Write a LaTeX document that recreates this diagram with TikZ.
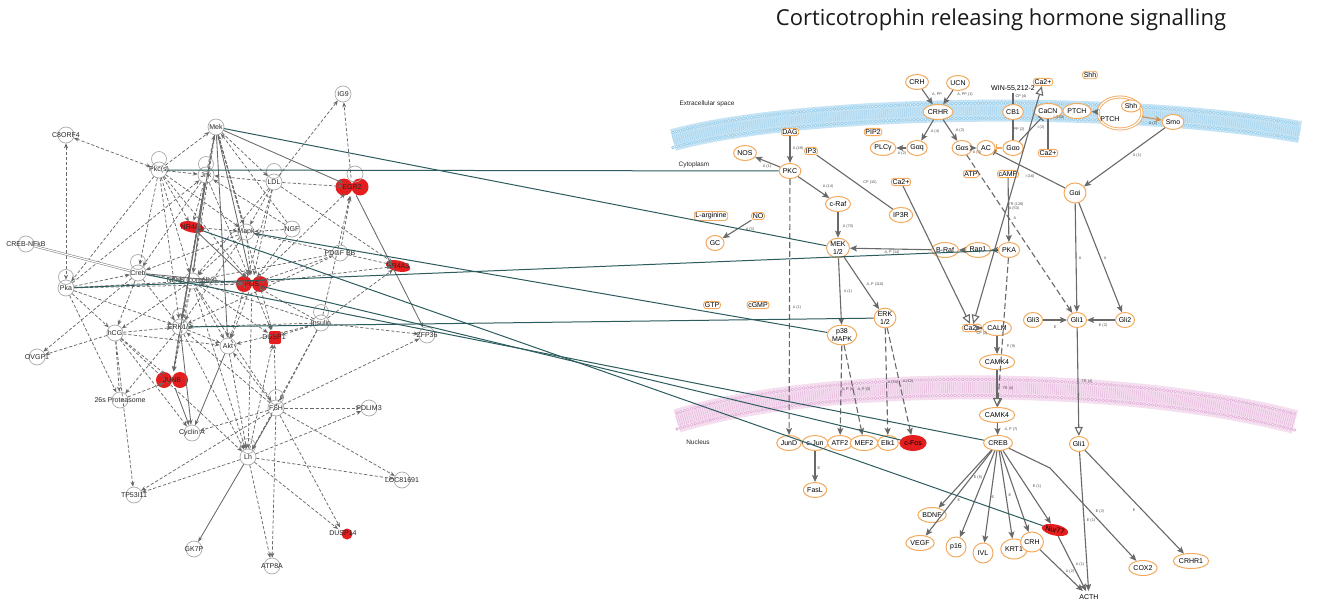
\documentclass[tikz,border=0pt]{standalone}
\usepackage{fontspec}
\setmainfont{Liberation Sans}
\newfontfamily\titlefont{Open Sans}
\usetikzlibrary{arrows.meta,shapes.geometric,calc}
\definecolor{ipaor}{RGB}{243,170,95}
\definecolor{ipared}{RGB}{228,30,30}
\definecolor{tealc}{RGB}{45,92,95}
\definecolor{edgegray}{RGB}{105,105,105}
\definecolor{circgray}{RGB}{170,170,170}
\definecolor{memblue}{RGB}{196,228,245}
\definecolor{memblue2}{RGB}{150,204,234}
\definecolor{mempink}{RGB}{246,222,241}
\definecolor{mempink2}{RGB}{226,176,216}
\newcommand\bluemem[1]{\draw[#1] (673,140) .. controls (800,105) and (1120,100) .. (1300,132);}
\newcommand\pinkmem[1]{\draw[#1] (677,421) .. controls (820,376) and (1120,376) .. (1295,422);}
\begin{document}
\begin{tikzpicture}[x=1pt,y=-1pt,
  gn/.style={circle, draw=circgray, line width=0.7pt, minimum size=16pt, inner sep=0pt},
  gl/.style={font=\fontsize{7}{8}\selectfont, text=black!85, inner sep=0pt},
  ge/.style={edgegray, line width=0.75pt, dash pattern=on 3.2pt off 2pt, -{Stealth[length=5pt,width=4pt]}},
  gs/.style={edgegray, line width=0.85pt, -{Stealth[length=5pt,width=4pt]}},
  tealln/.style={tealc, line width=1pt},
  onode/.style={ellipse, draw=ipaor, line width=1pt, inner sep=0.5pt, minimum width=18pt, minimum height=15pt, font=\fontsize{7}{8}\selectfont, align=center, fill=white},
  osm/.style={rectangle, rounded corners=3pt, draw=ipaor, line width=0.9pt, inner sep=1.2pt, font=\fontsize{7}{8}\selectfont, fill=white},
  rarr/.style={edgegray, line width=1.1pt, -{Stealth[length=7pt,width=6pt,inset=1.5pt]}},
  rdash/.style={rarr, dash pattern=on 6pt off 3pt},
  ropen/.style={edgegray, line width=1.1pt, -{Triangle[open,length=9pt,width=8pt,fill=white]}},
  rline/.style={edgegray, line width=1.1pt},
  elab/.style={font=\fontsize{3.8}{4}\selectfont, text=black!70, inner sep=0.3pt},
  reg/.style={font=\fontsize{6.5}{7}\selectfont, text=black!85}
]
\useasboundingbox (0,0) rectangle (1321,604);
\fill[white] (0,0) rectangle (1321,604);

% ---------------- membranes ----------------
\bluemem{memblue, line width=22pt}
\bluemem{memblue2!80, line width=9pt, dash pattern=on 0.7pt off 1.4pt}
\bluemem{memblue2, line width=3.6pt, line cap=round, dash pattern=on 0pt off 3.8pt, yshift=7.5pt}
\bluemem{white, line width=1.4pt, line cap=round, dash pattern=on 0pt off 3.8pt, yshift=7.5pt}
\bluemem{memblue2, line width=3.6pt, line cap=round, dash pattern=on 0pt off 3.8pt, yshift=-7.5pt}
\bluemem{white, line width=1.4pt, line cap=round, dash pattern=on 0pt off 3.8pt, yshift=-7.5pt}
\pinkmem{mempink, line width=24pt}
\pinkmem{mempink2!80, line width=11pt, dash pattern=on 0.7pt off 1.4pt}
\pinkmem{mempink2, line width=3.6pt, line cap=round, dash pattern=on 0pt off 3.8pt, yshift=8pt}
\pinkmem{white, line width=1.4pt, line cap=round, dash pattern=on 0pt off 3.8pt, yshift=8pt}
\pinkmem{mempink2, line width=3.6pt, line cap=round, dash pattern=on 0pt off 3.8pt, yshift=-8pt}
\pinkmem{white, line width=1.4pt, line cap=round, dash pattern=on 0pt off 3.8pt, yshift=-8pt}

% ---------------- title and regions ----------------
\node[font=\titlefont\fontsize{22}{25}\selectfont, text=black!90] (title) at (1001,20) {Corticotrophin releasing hormone signalling};
\node[reg] (extra) at (707,104) {Extracellular space};
\node[reg] (cyto) at (694,165) {Cytoplasm};
\node[reg] (nucl) at (698,442) {Nucleus};

% ---------------- left network: red fills ----------------
\fill[ipared] (344,187) circle (8.5) (360,187) circle (8.5);
\fill[ipared] (244,284) circle (8) (260,284) circle (8);
\fill[ipared] (164,380) circle (8) (180,380) circle (8);
\fill[ipared, rotate around={-12:(192,227)}] (192,227) ellipse (12.5 and 5.5);
\fill[ipared, rotate around={-12:(398,266)}] (398,266) ellipse (12.5 and 5.5);
\fill[ipared, rounded corners=2pt] (269,331) rectangle (281,344);
\fill[ipared] (347,534) circle (5.5);

% ---------------- left network nodes ----------------
\node[gn, label={[gl]center:IG9}] (ig9) at (343,94) {};
\node[gn, label={[gl]center:C8ORF4}] (c8) at (66,135) {};
\node[gn, label={[gl]center:Mek}] (mek) at (216,127) {};
\node[gn, label={[gl]center:Pkc(s)}] (pkc) at (159,170) {};
\node[gn, label={[gl]center:Jnk}] (jnk) at (206,175) {};
\node[gn, label={[gl]center:LDL}] (ldl) at (274,182) {};
\node[gn, draw=none, minimum size=18pt, label={[gl]center:EGR2}] (egr2) at (352,187) {};
\node[gn, draw=none, minimum size=12pt, label={[gl]center:NR4A1}] (nr4a1) at (192,227) {};
\node[gn, label={[gl]center:Mapk}] (mapk) at (246,232) {};
\node[gn, label={[gl]center:NGF}] (ngf) at (292,229) {};
\node[gn, label={[gl]center:PDGF BB}] (pdgf) at (340,253) {};
\node[gn, draw=none, minimum size=12pt, label={[gl]center:NR4A3}] (nr4a3) at (398,266) {};
\node[gn, label={[gl]center:CREB-NFkB}] (cnf) at (26,244) {};
\node[gn, label={[gl]center:Creb}] (creb) at (138,273) {};
\node[gn, label={[gl]center:NFkB (complex)}] (nfkb) at (192,281) {};
\node[gn, draw=none, minimum size=17pt, label={[gl]center:FOS}] (fos) at (252,284) {};
\node[gn, label={[gl]center:Pka}] (pka) at (66,288) {};
\node[gn, label={[gl]center:hCG}] (hcg) at (115,333) {};
\node[gn, label={[gl]center:ERK1/2}] (erk) at (180,327) {};
\node[gn, label={[gl]center:Insulin}] (ins) at (321,323) {};
\node[gn, draw=none, minimum size=14pt, label={[gl]center:DUSP1}] (dusp1) at (274,337) {};
\node[gn, label={[gl]center:Akt}] (akt) at (228,346) {};
\node[gn, label={[gl]center:ZFP36}] (zfp) at (427,335) {};
\node[gn, label={[gl]center:OVGP1}] (ovgp) at (37,357) {};
\node[gn, draw=none, minimum size=17pt, label={[gl]center:JUNB}] (junb) at (172,380) {};
\node[gn, label={[gl]center:26s Proteasome}] (s26) at (120,400) {};
\node[gn, label={[gl]center:Cyclin A}] (cyc) at (192,433) {};
\node[gn, label={[gl]center:FSH}] (fsh) at (276,408) {};
\node[gn, label={[gl]center:PDLIM3}] (pdlim) at (369,408) {};
\node[gn, label={[gl]center:Lh}] (lh) at (248,457) {};
\node[gn, label={[gl]center:LOC81691}] (loc) at (402,480) {};
\node[gn, label={[gl]center:TP53I11}] (tp53) at (134,495) {};
\node[gn, draw=none, minimum size=12pt, label={[gl]center:DUSP14}] (dusp14) at (343,533) {};
\node[gn, label={[gl]center:GK7P}] (gk7p) at (194,549) {};
\node[gn, label={[gl]center:ATP8A}] (atp8) at (272,566) {};

% self loops
\foreach \n in {pkc,jnk,ldl,pka,creb,ins,fsh,lh,erk}
  \draw[circgray, line width=0.7pt] ($(\n)+(0,-11)$) circle (7.5);
\draw[circgray, line width=0.7pt] ($(egr2)+(3,-13)$) circle (8);

% left edges
\draw[edgegray, line width=0.75pt, dash pattern=on 3.2pt off 2pt, {Stealth[length=5pt,width=4pt]}-{Stealth[length=5pt,width=4pt]}] (c8) -- (pkc);
\draw[edgegray, line width=0.75pt, dash pattern=on 3.2pt off 2pt, {Stealth[length=5pt,width=4pt]}-{Stealth[length=5pt,width=4pt]}] (c8) -- (pka);
\foreach \a/\b in {ldl/ig9, egr2/ig9, mek/ldl, ldl/jnk, ldl/egr2, pdgf/egr2, pdgf/nr4a3, ldl/nr4a3, pdgf/mapk, pdgf/fos, pdgf/nfkb, pdgf/erk, ngf/mapk, ngf/mek, ngf/jnk, ngf/fos, ldl/mapk, ldl/nfkb, ldl/fos, ldl/akt, pkc/jnk, pkc/creb, pkc/nfkb, pkc/pka, pkc/fos, pkc/erk, pkc/mapk, pkc/nr4a1, pkc/mek, jnk/mek, jnk/creb, jnk/fos, jnk/erk, pka/jnk, mapk/mek, mapk/nfkb, mapk/fos, mapk/erk, mapk/creb, nr4a1/mapk, creb/nfkb, creb/erk, creb/hcg, pka/creb, pka/nfkb, pka/hcg, pka/s26, pka/erk, pka/fos, nfkb/fos, nfkb/erk, nfkb/akt, nfkb/hcg, nfkb/junb, nfkb/dusp1, ins/fos, ins/nfkb, ins/erk, ins/akt, ins/dusp1, ins/nr4a3, ins/egr2, fos/egr2, fos/akt, fos/dusp1, fos/nr4a3, erk/akt, erk/junb, hcg/erk, erk/s26, hcg/junb, hcg/s26, hcg/ovgp, creb/ovgp, hcg/tp53, hcg/akt, hcg/cyc, s26/junb, fsh/dusp1, fsh/akt, fsh/pdlim, fsh/zfp, fsh/loc, fsh/dusp14, fsh/atp8, fsh/tp53, fsh/cyc, fsh/erk, lh/atp8, lh/dusp14, lh/tp53, lh/loc, lh/pdlim, lh/dusp1, nfkb/lh, fos/lh, erk/lh, akt/lh, hcg/lh, ins/lh, ins/fsh, nfkb/fsh, ins/zfp, mek/nfkb, mek/dusp1, jnk/nr4a1, mek/mapk}
  \draw[ge] (\a) -- (\b);
\foreach \a/\b in {mek/egr2, egr2/zfp, jnk/nfkb, mek/erk, akt/cyc, junb/cyc, erk/cyc, lh/gk7p, fsh/lh, mek/fos, jnk/junb, mek/akt, creb/fos, nr4a1/fos}
  \draw[gs] (\a) -- (\b);
\draw[circgray!70!black, line width=0.5pt, double=white, double distance=1.2pt] (cnf) -- (creb);

% ---------------- right pathway nodes ----------------
\node[osm] (dag) at (790,132) {DAG};
\node[onode] (pkc2) at (790,171) {PKC};
\node[onode] (nos) at (745,153) {NOS};
\node[osm] (ip3) at (811,151) {IP3};
\node[osm] (pip2) at (873,132) {PIP2};
\node[onode] (plcg) at (883,148) {PLCγ};
\node[onode] (gaq) at (917,148) {Gαq};
\node[onode] (crh) at (917,82) {CRH};
\node[onode] (ucn) at (958,83) {UCN};
\node[onode] (crhr) at (938,112) {CRHR};
\node[font=\fontsize{7}{8}\selectfont, inner sep=1pt] (win) at (1013,89) {WIN-55,212-2};
\node[onode, minimum width=14pt] (cb1) at (1013,112) {CB1};
\node[osm] (ca2t) at (1043,82) {Ca2+};
\node[onode] (cacn) at (1048,111) {CaCN};
\node[onode] (ptch1) at (1077,111) {PTCH};
\node[ellipse, draw=ipaor, line width=0.9pt, double=white, double distance=1.2pt, minimum width=44pt, minimum height=32pt, fill=white] (ptch2) at (1120,113) {};
\node[onode, minimum width=16pt, minimum height=12pt] (shh2) at (1131,106) {Shh};
\node[font=\fontsize{7}{8}\selectfont, inner sep=0pt] (ptcht) at (1110,119) {PTCH};
\node[osm] (shh) at (1090,75) {Shh};
\node[onode] (smo) at (1173,122) {Smo};
\node[onode] (gas) at (962,148) {Gαs};
\node[onode] (ac) at (986,148) {AC};
\node[onode] (gao) at (1013,148) {Gαo};
\node[osm] (ca2c) at (1048,153) {Ca2+};
\node[osm] (atp) at (971,174) {ATP};
\node[osm] (camp) at (1008,174) {cAMP};
\node[onode, minimum width=22pt, minimum height=20pt] (gai) at (1075,193) {Gαi};
\node[osm] (ca2l) at (901,182) {Ca2+};
\node[onode] (ip3r) at (901,215) {IP3R};
\node[onode] (craf) at (838,204) {c-Raf};
\node[osm] (larg) at (711,216) {L-arginine};
\node[osm] (no) at (758,216) {NO};
\node[onode] (gc) at (715,243) {GC};
\node[onode] (mek2) at (838,248) {MEK\\1/2};
\node[onode] (braf) at (945,250) {B-Raf};
\node[onode] (rap1) at (978,250) {Rap1};
\node[onode] (pka2) at (1009,250) {PKA};
\node[osm] (gtp) at (712,305) {GTP};
\node[osm] (cgmp) at (758,305) {cGMP};
\node[onode] (erk2) at (885,318) {ERK\\1/2};
\node[onode] (p38) at (842,335) {p38\\MAPK};
\node[osm] (ca2m) at (972,328) {Ca2+};
\node[onode] (calm) at (997,328) {CALM};
\node[onode] (gli3) at (1033,320) {Gli3};
\node[onode] (gli1) at (1077,320) {Gli1};
\node[onode] (gli2) at (1125,320) {Gli2};
\node[onode] (camk4) at (997,362) {CAMK4};
\node[onode] (camk4b) at (997,415) {CAMK4};
\node[onode] (jund) at (789,443) {JunD};
\node[onode] (cjun) at (815,443) {c-Jun};
\node[onode] (atf2) at (840,443) {ATF2};
\node[onode] (mef2) at (864,443) {MEF2};
\node[onode] (elk1) at (888,443) {Elk1};
\node[onode, fill=ipared, draw=ipared] (cfos) at (913,443) {c-Fos};
\node[onode] (creb2) at (998,443) {CREB};
\node[onode] (gli1b) at (1079,444) {Gli1};
\node[onode] (fasl) at (815,490) {FasL};
\node[onode] (bdnf) at (932,515) {BDNF};
\node[onode] (vegf) at (920,543) {VEGF};
\node[onode, minimum width=20pt, minimum height=20pt] (p16) at (956,547) {p16};
\node[onode, minimum width=20pt, minimum height=20pt] (ivl) at (983,553) {IVL};
\node[onode, minimum height=20pt] (krt1) at (1014,549) {KRT1};
\node[onode, minimum height=20pt] (crh2) at (1032,542) {CRH};
\node[ellipse, fill=ipared, rotate=-12, minimum width=24pt, minimum height=11pt, inner sep=0pt, font=\fontsize{7}{8}\selectfont] (nur77) at (1055,530) {Nur77};
\node[onode] (cox2) at (1143,568) {COX2};
\node[onode] (crhr1) at (1191,561) {CRHR1};
\node[font=\fontsize{7}{8}\selectfont] (acth) at (1089,597) {ACTH};
\coordinate (bendcox) at (1050,468);

% ---------------- right pathway edges ----------------
\draw[rarr] (dag) -- (pkc2);
\draw[rarr] (pkc2) -- (nos);
\draw[rarr] (pkc2) -- (craf);
\draw[rarr] (craf) -- (mek2);
\draw[rline] (ip3) -- (ip3r);
\draw[rdash] (pkc2) -- (jund);
\draw[rarr] (no) -- (gc);
\draw[rarr] (mek2) -- (p38);
\draw[rarr] (mek2) -- (erk2);
\draw[rarr] (braf) -- (mek2);
\draw[rarr] (rap1) -- (braf);
\draw[rarr] (pka2) -- (rap1);
\draw[rdash] (p38) -- (atf2);
\draw[rdash] (p38) -- (mef2);
\draw[rdash] (erk2) -- (elk1);
\draw[rdash] (erk2) -- (cfos);
\draw[rarr] (crh) -- (crhr);
\draw[rarr] (ucn) -- (crhr);
\draw[rarr] (crhr) -- (gaq);
\draw[rarr] (crhr) -- (gas);
\draw[rarr] (gaq) -- (plcg);
\draw[rarr] (gas) -- (ac);
\draw[ipaor, line width=1.1pt, -{Bar[width=8pt]}] (gao) -- (ac);
\draw[rline] (win) -- (cb1);
\draw[rline] (cb1) -- (gao);
\draw[rline, -{Bar[width=7pt]}] (gao) -- (cacn);
\draw[rline] (cacn) -- (ca2c);
\draw[rline, {Triangle[open,length=9pt,width=8pt,fill=white]}-{Triangle[open,length=9pt,width=8pt,fill=white]}] (ca2m) -- (ca2t);
\draw[ropen] (ca2l) -- (ca2m);
\draw[rline, -{Bar[width=6pt]}] (gai) -- (ac);
\draw[rarr] (camp) -- (pka2);
\draw[rdash] (gas) -- (gli1);
\draw[rarr] (gai) -- (gli1);
\draw[rarr] (gai) -- (gli2);
\draw[rarr] (smo) -- (gai);
\draw[ipaor!85!black, line width=1.1pt, -{Stealth[length=7pt,width=6pt]}] (ptch2) -- (smo);
\draw[rarr] (ptch2) -- (ptch1);
\draw[rarr] (gli3) -- (gli1);
\draw[rarr] (gli2) -- (gli1);
\draw[ropen] (gli1) -- (gli1b);
\draw[ropen, dash pattern=on 6pt off 3pt] (pka2) -- (camk4b);
\draw[rarr] (calm) -- (camk4);
\draw[rarr] (calm) -- (ca2m);
\draw[ropen] (camk4) -- (camk4b);
\draw[rarr] (camk4b) -- (creb2);
\draw[rline] (jund) -- (cjun);
\draw[rarr] (cjun) -- (fasl);
\foreach \t in {bdnf,vegf,p16,ivl,krt1,crh2,nur77}
  \draw[rarr] (creb2) -- (\t);
\draw[rarr] (creb2) -- (bendcox) -- (cox2);
\draw[rarr] (gli1b) -- (acth);
\draw[rarr] (gli1b) -- (crhr1);
\draw[rarr] (crh2) -- (acth);
\draw[rarr] (nur77) -- (acth);

% ---------------- teal cross connectors ----------------
\draw[tealln] (pkc) -- (pkc2);
\draw[tealln] (mek) -- (mek2);
\draw[tealln] (pka) -- (pka2);
\draw[tealln] (mapk) -- (p38);
\draw[tealln] (erk) -- (erk2);
\draw[tealln] (creb) -- (creb2);
\draw[tealln] (fos) -- (cfos);
\draw[tealln] (nr4a1) -- (nur77);

% ---------------- edge labels ----------------
\foreach \p/\t in {{(798,149)}/{A (49)}, {(767,167)}/{A (1)}, {(828,187)}/{A (14)}, {(870,183)}/{CP (15)}, {(750,230)}/{A (3)}, {(848,227)}/{A (70)}, {(797,308)}/{A (1)}, {(848,292)}/{A (1)}, {(875,285)}/{A, P (110)}, {(892,253)}/{A, P (14)}, {(848,390)}/{A, P (9)}, {(864,390)}/{A, P (3)}, {(893,383)}/{A (34)}, {(908,382)}/{A (12)}, {(937,94)}/{A, PP}, {(965,95)}/{A, PP (1)}, {(1021,97)}/{CP (4)}, {(1059,118)}/{I (108)}, {(935,132)}/{A (4)}, {(960,131)}/{A (2)}, {(902,154)}/{A (2)}, {(977,153)}/{A (3)}, {(1019,130)}/{PP (2)}, {(1041,128)}/{I (2)}, {(1030,177)}/{I (16)}, {(1016,205)}/{TR (128)}, {(1014,209)}/{A (53)}, {(1015,218)}/{A}, {(1153,124)}/{A (1)}, {(1137,156)}/{A (1)}, {(982,334)}/{CP (2)}, {(1011,347)}/{P (9)}, {(1008,389)}/{TR (4)}, {(1011,430)}/{A, P (7)}, {(1055,327)}/{E}, {(1103,326)}/{E (2)}, {(1080,258)}/{A}, {(1105,258)}/{A}, {(1087,382)}/{TR (4)}, {(978,478)}/{E (6)}, {(959,500)}/{E}, {(993,497)}/{E}, {(1010,495)}/{E}, {(1037,487)}/{E (1)}, {(1100,512)}/{E (2)}, {(1091,521)}/{E (1)}, {(1134,510)}/{E}, {(1080,565)}/{A (1)}, {(1070,572)}/{A (2)}, {(819,468)}/{E}}
  \node[elab] at \p {\t};
\end{tikzpicture}
\end{document}
